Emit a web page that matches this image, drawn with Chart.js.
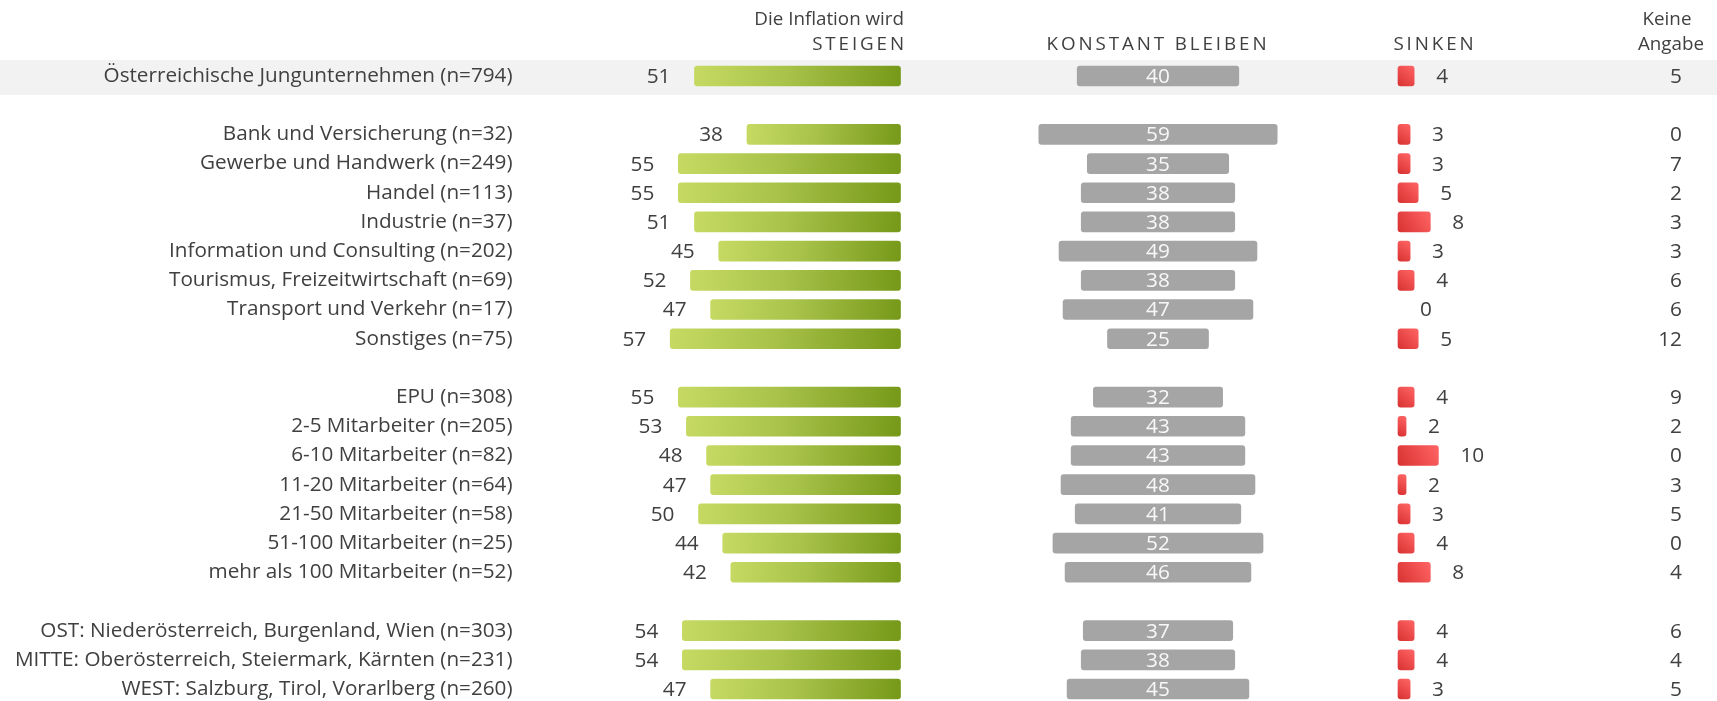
<!DOCTYPE html>
<html>
<head>
<meta charset="utf-8">
<script src="https://cdn.jsdelivr.net/npm/chart.js@4.4.1/dist/chart.umd.min.js"></script>
<style>
  html, body { margin: 0; padding: 0; background: #ffffff; overflow: hidden; }
  #wrap { width: 1717px; height: 701px; position: relative; }
</style>
</head>
<body>
<div id="wrap"><canvas id="c" width="1717" height="701"></canvas></div>
<script>
// ---------- data ----------
const categories = [
  'Österreichische Jungunternehmen (n=794)',
  '',
  'Bank und Versicherung (n=32)',
  'Gewerbe und Handwerk (n=249)',
  'Handel (n=113)',
  'Industrie (n=37)',
  'Information und Consulting (n=202)',
  'Tourismus, Freizeitwirtschaft (n=69)',
  'Transport und Verkehr (n=17)',
  'Sonstiges (n=75)',
  '',
  'EPU (n=308)',
  '2-5 Mitarbeiter (n=205)',
  '6-10 Mitarbeiter (n=82)',
  '11-20 Mitarbeiter (n=64)',
  '21-50 Mitarbeiter (n=58)',
  '51-100 Mitarbeiter (n=25)',
  'mehr als 100 Mitarbeiter (n=52)',
  '',
  'OST: Niederösterreich, Burgenland, Wien (n=303)',
  'MITTE: Oberösterreich, Steiermark, Kärnten (n=231)',
  'WEST: Salzburg, Tirol, Vorarlberg (n=260)'
];
const steigen = [51, null, 38, 55, 55, 51, 45, 52, 47, 57, null, 55, 53, 48, 47, 50, 44, 42, null, 54, 54, 47];
const konstant = [40, null, 59, 35, 38, 38, 49, 38, 47, 25, null, 32, 43, 43, 48, 41, 52, 46, null, 37, 38, 45];
const sinken = [4, null, 3, 3, 5, 8, 3, 4, 0, 5, null, 4, 2, 10, 2, 3, 4, 8, null, 4, 4, 3];
const keineAngabe = [5, null, 0, 7, 2, 3, 3, 6, 6, 12, null, 9, 2, 0, 3, 5, 0, 4, null, 6, 4, 5];
const headers = {
  steigenTop: 'Die Inflation wird',
  steigen: 'STEIGEN',
  konstant: 'KONSTANT BLEIBEN',
  sinken: 'SINKEN',
  keineTop: 'Keine',
  keineBottom: 'Angabe'
};
const highlightRows = [0];

// ---------- layout / style ----------
const FONT = '"Open Sans", "Noto Sans", sans-serif';
const TEXT = '#404040';
const W = 1717;
const AXIS_W = 520;            // y-axis (label) width
const PLOT_W = W - AXIS_W;     // chart area width
const PPU = 4.04;              // pixels per percent
const SPAN = PLOT_W / PPU;
// anchors (pixels) for each block
const G0 = 900.5, C0 = 1158, R0 = 1398;
const gMax = (G0 - AXIS_W) / PPU;          // reversed axis
const cMin = -(C0 - AXIS_W) / PPU;
const rMin = -(R0 - AXIS_W) / PPU;

function greenFill(ctx) {
  const chart = ctx.chart;
  if (!chart.chartArea || !chart.scales.xG || ctx.raw == null) return '#9fbb3f';
  const sx = chart.scales.xG, sy = chart.scales.y;
  const x1 = sx.getPixelForValue(ctx.raw), x2 = sx.getPixelForValue(0);
  const y = sy.getPixelForValue(ctx.dataIndex);
  const g = chart.ctx.createLinearGradient(x1, y - 10, x2, y + 10);
  g.addColorStop(0, '#c6da63');
  g.addColorStop(0.45, '#a8c24a');
  g.addColorStop(1, '#769919');
  return g;
}
function redFill(ctx) {
  const chart = ctx.chart;
  if (ctx.raw === 0) return 'rgba(0,0,0,0)';
  if (!chart.chartArea || !chart.scales.xR || ctx.raw == null) return '#e84545';
  const sx = chart.scales.xR, sy = chart.scales.y;
  const x1 = sx.getPixelForValue(0), x2 = sx.getPixelForValue(Math.max(ctx.raw, 1));
  const y = sy.getPixelForValue(ctx.dataIndex);
  const g = chart.ctx.createLinearGradient(x1, y + 10, x2, y - 10);
  g.addColorStop(0, '#d93232');
  g.addColorStop(1, '#ff6464');
  return g;
}

const bandPlugin = {
  id: 'band',
  beforeDraw(chart) {
    const c = chart.ctx, sy = chart.scales.y;
    c.save();
    c.fillStyle = '#f2f2f2';
    highlightRows.forEach(i => {
      const y = sy.getPixelForValue(i);
      c.fillRect(0, y - 16, chart.width, 35);
    });
    c.restore();
  }
};

const textPlugin = {
  id: 'texts',
  afterDatasetsDraw(chart) {
    const c = chart.ctx, sy = chart.scales.y;
    c.save();
    c.textBaseline = 'middle';
    // headers
    c.fillStyle = TEXT;
    c.font = '18.8px ' + FONT;
    c.textAlign = 'right';
    c.fillText(headers.steigenTop, 904, 20);
    c.textAlign = 'center';
    c.fillText(headers.keineTop, 1667, 20);
    c.fillText(headers.keineBottom, 1671, 45);
    c.letterSpacing = '2.9px';
    c.textAlign = 'right';
    c.fillText(headers.steigen, 907, 45);
    c.textAlign = 'center';
    c.fillText(headers.konstant, 1158, 45);
    c.fillText(headers.sinken, 1435, 45);
    c.letterSpacing = '0px';

    c.font = '20.8px ' + FONT;
    const mg = chart.getDatasetMeta(0), mc = chart.getDatasetMeta(1), mr = chart.getDatasetMeta(2);
    steigen.forEach((v, i) => {
      if (v == null) return;
      const el = mg.data[i];
      c.fillStyle = TEXT; c.textAlign = 'right';
      c.fillText(String(v), Math.min(el.x, el.base) - 24, el.y + 1);
    });
    konstant.forEach((v, i) => {
      if (v == null) return;
      const el = mc.data[i];
      c.fillStyle = '#f8f8f8'; c.textAlign = 'center';
      c.fillText(String(v), (el.x + el.base) / 2, el.y + 1);
    });
    sinken.forEach((v, i) => {
      if (v == null) return;
      const el = mr.data[i];
      c.fillStyle = TEXT; c.textAlign = 'left';
      c.fillText(String(v), Math.max(el.x, el.base) + 22, el.y + 1);
    });
    keineAngabe.forEach((v, i) => {
      if (v == null) return;
      c.fillStyle = TEXT; c.textAlign = 'right';
      c.fillText(String(v), 1682, sy.getPixelForValue(i) + 1);
    });
    c.restore();
  }
};

new Chart(document.getElementById('c'), {
  type: 'bar',
  data: {
    labels: categories,
    datasets: [
      {
        label: 'steigen', data: steigen, xAxisID: 'xG',
        backgroundColor: greenFill, borderRadius: 3, borderSkipped: false,
        barThickness: 20, grouped: false, clip: false
      },
      {
        label: 'konstant', data: konstant.map(v => v == null ? null : [-v / 2, v / 2]), xAxisID: 'xC',
        backgroundColor: '#a5a5a5', borderRadius: 3, borderSkipped: false,
        barThickness: 20, grouped: false, clip: false
      },
      {
        label: 'sinken', data: sinken, xAxisID: 'xR',
        backgroundColor: redFill, borderRadius: 3, borderSkipped: false,
        barThickness: 20, grouped: false, clip: false
      }
    ]
  },
  options: {
    indexAxis: 'y',
    responsive: false,
    animation: false,
    devicePixelRatio: 1,
    layout: { padding: { top: 76, bottom: 12, left: 0, right: 0 } },
    plugins: { legend: { display: false }, tooltip: { enabled: false } },
    scales: {
      y: {
        type: 'category',
        offset: false,
        grid: { display: false, drawTicks: false },
        border: { display: false },
        ticks: { color: TEXT, font: { family: FONT, size: 20.7 }, padding: 7.5, autoSkip: false },
        afterFit(scale) { scale.width = AXIS_W; scale.paddingTop = 0; scale.paddingBottom = 0; }
      },
      xG: { type: 'linear', display: false, reverse: true, min: gMax - SPAN, max: gMax },
      xC: { type: 'linear', display: false, min: cMin, max: cMin + SPAN },
      xR: { type: 'linear', display: false, min: rMin, max: rMin + SPAN }
    }
  },
  plugins: [bandPlugin, textPlugin]
});
</script>
</body>
</html>
